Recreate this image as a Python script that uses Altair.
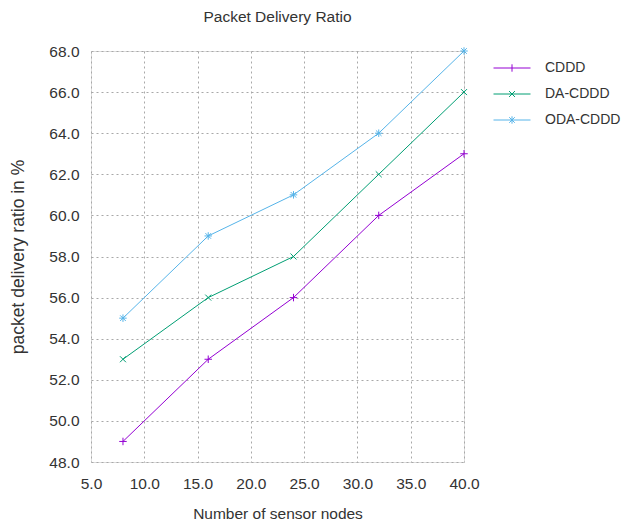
import altair as alt
import pandas as pd

nodes = [8, 16, 24, 32, 40]
series_names = ["CDDD", "DA-CDDD", "ODA-CDDD"]
cddd = [49, 53, 56, 60, 63]
da_cddd = [53, 56, 58, 62, 66]
oda_cddd = [55, 59, 61, 64, 68]
colors = ["#9400d3", "#009e73", "#56b4e9"]
x_ticks = [5, 10, 15, 20, 25, 30, 35, 40]
y_ticks = [48, 50, 52, 54, 56, 58, 60, 62, 64, 66, 68]

rows = []
for name, vals in zip(series_names, [cddd, da_cddd, oda_cddd]):
    for n, v in zip(nodes, vals):
        rows.append({"series": name, "nodes": n, "pdr": v})
df = pd.DataFrame(rows)

marker_paths = [
    "M-1,0L1,0M0,-1L0,1",
    "M-0.8,-0.8L0.8,0.8M-0.8,0.8L0.8,-0.8",
    "M-1,0L1,0M0,-1L0,1M-0.75,-0.75L0.75,0.75M-0.75,0.75L0.75,-0.75",
]
legend_paths = [
    "M-1,0L1,0M0,-0.2L0,0.2",
    "M-1,0L1,0M-0.16,-0.16L0.16,0.16M-0.16,0.16L0.16,-0.16",
    "M-1,0L1,0M0,-0.2L0,0.2M-0.15,-0.15L0.15,0.15M-0.15,0.15L0.15,-0.15",
]

FONT = "Liberation Sans"

x = alt.X("nodes:Q", title="Number of sensor nodes",
          scale=alt.Scale(domain=[5, 40], nice=False, zero=False),
          axis=alt.Axis(values=x_ticks, format=".1f", grid=True, ticks=False, domain=False,
                        gridDash=[2, 3], gridColor="#a8a8a8", gridWidth=1,
                        labelPadding=14, titlePadding=15, labelFontSize=15.5, titleFontSize=15.5,
                        labelFont=FONT, titleFont=FONT, labelColor="#333", titleColor="#333",
                        titleFontWeight="normal", labelFlush=False))
y = alt.Y("pdr:Q", title="packet delivery ratio in %",
          scale=alt.Scale(domain=[48, 68], nice=False, zero=False),
          axis=alt.Axis(values=y_ticks, format=".1f", grid=True, ticks=False, domain=False,
                        gridDash=[2, 3], gridColor="#a8a8a8", gridWidth=1,
                        labelPadding=12, titlePadding=21, labelFontSize=15.5, titleFontSize=17.5,
                        labelFont=FONT, titleFont=FONT, labelColor="#333", titleColor="#333",
                        titleFontWeight="normal", labelFlush=False))

color_nolegend = alt.Color("series:N", scale=alt.Scale(domain=series_names, range=colors), legend=None)

lines = alt.Chart(df).mark_line(strokeWidth=1).encode(x=x, y=y, color=color_nolegend)

points = alt.Chart(df).mark_point(filled=False, strokeWidth=1, size=56, opacity=1).encode(
    x=x, y=y, color=color_nolegend,
    shape=alt.Shape("series:N", scale=alt.Scale(domain=series_names, range=marker_paths), legend=None),
)

leg = alt.Legend(title=None, orient="none", legendX=402, legendY=-2, symbolOpacity=1,
                 symbolStrokeWidth=1, labelFontSize=14, labelFont=FONT, labelColor="#333",
                 labelOffset=14, rowPadding=-26, symbolSize=1369)
legend_layer = alt.Chart(df).mark_point(filled=False, opacity=0, strokeWidth=1).encode(
    x=x, y=y,
    color=alt.Color("series:N", scale=alt.Scale(domain=series_names, range=colors), legend=leg),
    shape=alt.Shape("series:N", scale=alt.Scale(domain=series_names, range=legend_paths), legend=leg),
)

chart = alt.layer(lines, points, legend_layer).resolve_scale(
    color="independent", shape="independent"
).properties(
    width=373, height=411,
    title=alt.TitleParams("Packet Delivery Ratio", fontSize=15.5, font=FONT, fontWeight="normal",
                          color="#333", anchor="middle", offset=19),
    autosize=alt.AutoSizeParams(type="none"),
    padding={"left": 83, "top": 43, "right": 159, "bottom": 62},
).configure_view(stroke="#444", strokeWidth=1).configure(background="white")

chart.save("out.html", embed_options={"renderer": "svg", "actions": False})
